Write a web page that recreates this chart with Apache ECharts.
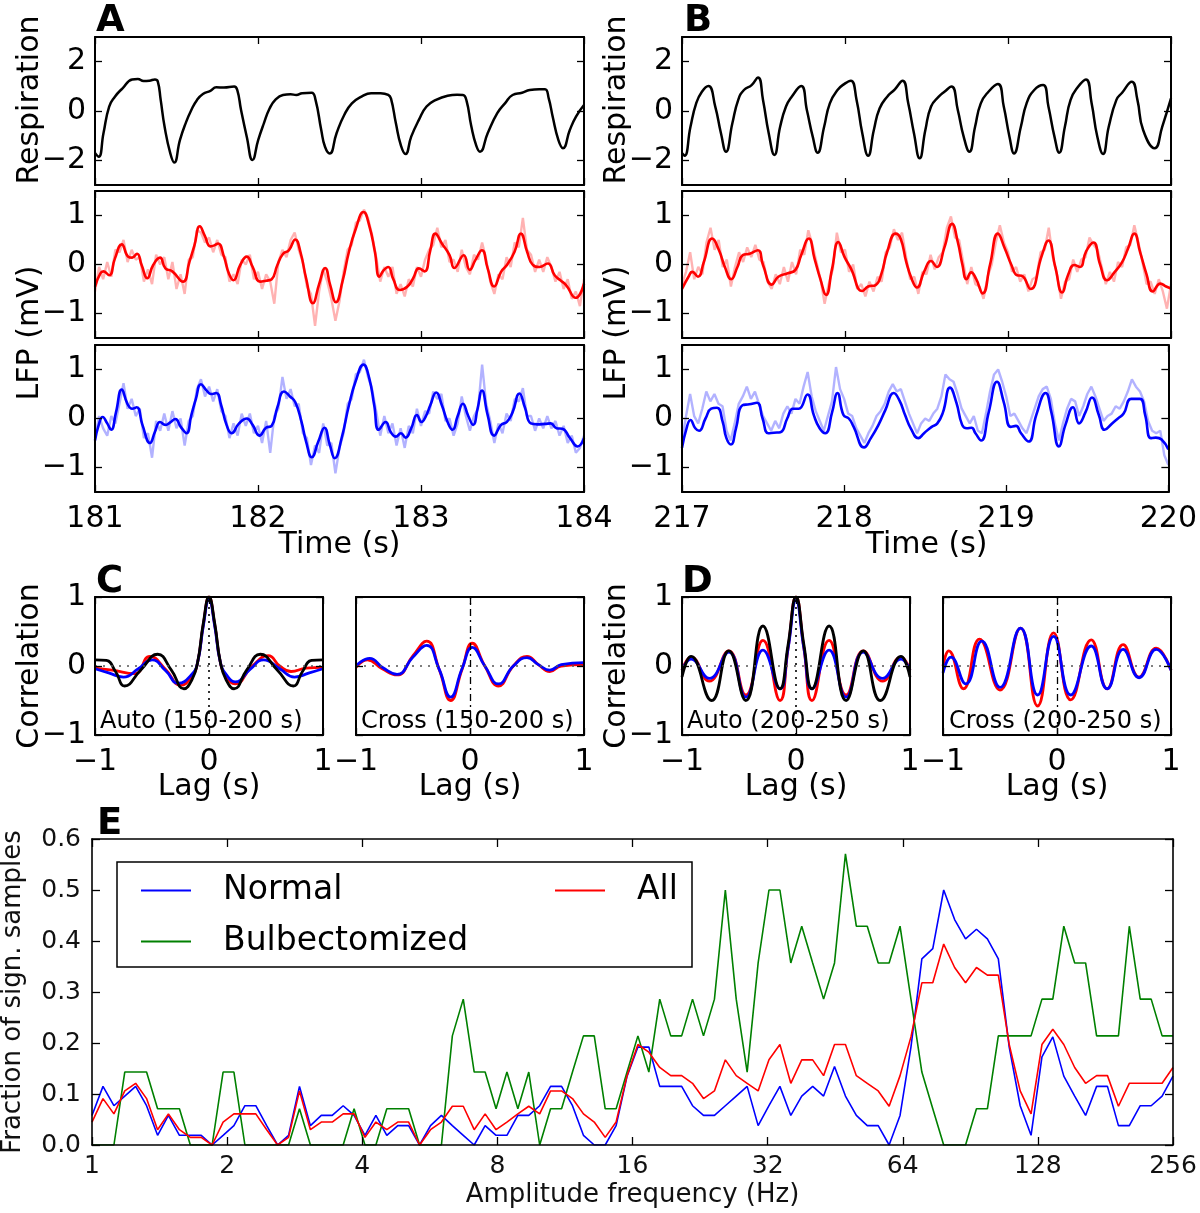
<!DOCTYPE html>
<html><head><meta charset="utf-8">
<script src="https://cdn.jsdelivr.net/npm/echarts@6/dist/echarts.min.js"></script>
<style>html,body{margin:0;padding:0;background:#fff}#c{width:1200px;height:1213px}</style>
</head><body><div id="c"></div>
<script>
// ---------------- DATA ----------------
const timeTicksA = [181, 182, 183, 184];
const timeTicksB = [217, 218, 219, 220];
const respTicks = [-2, 0, 2];
const lfpTicks = [-1, 0, 1];
const corrTicks = [-1, 0, 1];
const lagTicks = [-1, 0, 1];
const fracTicks = [0, 0.1, 0.2, 0.3, 0.4, 0.5, 0.6];

// Respiration (time s, a.u.)
const respA = [[181.000,-1.70],[181.023,-1.85],[181.052,-0.90],[181.087,0.18],[181.122,0.58],[181.169,0.92],[181.228,1.28],[181.263,1.30],[181.298,1.22],[181.333,1.23],[181.368,1.28],[181.385,1.20],[181.403,0.45],[181.427,-0.64],[181.462,-1.72],[181.486,-2.09],[181.521,-1.18],[181.556,-0.50],[181.591,0.04],[181.626,0.45],[181.662,0.69],[181.708,0.82],[181.744,0.96],[181.791,0.95],[181.854,0.99],[181.873,0.85],[181.896,0.04],[181.931,-1.04],[181.966,-1.99],[182.001,-1.18],[182.036,-0.50],[182.071,0.10],[182.106,0.45],[182.153,0.65],[182.200,0.68],[182.235,0.65],[182.271,0.72],[182.329,0.74],[182.353,0.45],[182.388,-0.77],[182.411,-1.45],[182.440,-1.72],[182.482,-0.90],[182.529,-0.16],[182.576,0.31],[182.635,0.58],[182.694,0.72],[182.752,0.72],[182.799,0.65],[182.816,0.50],[182.846,-0.50],[182.877,-1.40],[182.905,-1.74],[182.940,-1.04],[182.987,-0.36],[183.034,0.18],[183.092,0.45],[183.163,0.62],[183.221,0.66],[183.257,0.65],[183.280,0.40],[183.308,-0.60],[183.339,-1.40],[183.362,-1.65],[183.409,-0.90],[183.468,-0.09],[183.515,0.31],[183.562,0.65],[183.620,0.74],[183.667,0.85],[183.726,0.88],[183.761,0.88],[183.784,0.50],[183.808,-0.23],[183.843,-1.18],[183.871,-1.51],[183.913,-0.77],[183.951,-0.23],[184.000,0.24]];
const respB = [[217.000,-1.70],[217.016,-1.81],[217.052,-0.64],[217.087,0.31],[217.122,0.78],[217.162,1.01],[217.204,0.18],[217.239,-0.90],[217.270,-1.65],[217.309,-0.50],[217.345,0.45],[217.380,0.85],[217.427,1.05],[217.466,1.36],[217.497,0.45],[217.532,-0.90],[217.567,-1.78],[217.602,-0.64],[217.638,0.18],[217.673,0.58],[217.731,1.01],[217.766,0.04],[217.802,-1.04],[217.832,-1.69],[217.872,-0.64],[217.907,0.31],[217.954,0.85],[218.001,1.12],[218.036,1.23],[218.071,0.45],[218.106,-0.90],[218.142,-1.81],[218.177,-0.77],[218.212,0.10],[218.259,0.58],[218.306,0.88],[218.353,1.23],[218.388,0.31],[218.423,-0.90],[218.458,-1.92],[218.493,-0.77],[218.528,0.18],[218.575,0.58],[218.610,0.78],[218.653,0.99],[218.692,0.04],[218.728,-1.04],[218.763,-1.65],[218.798,-0.64],[218.833,0.31],[218.880,0.78],[218.938,1.09],[218.974,0.18],[219.009,-1.04],[219.037,-1.72],[219.079,-0.64],[219.114,0.31],[219.161,0.85],[219.215,1.05],[219.248,0.18],[219.285,-1.04],[219.314,-1.69],[219.349,-0.64],[219.384,0.45],[219.431,0.99],[219.478,1.28],[219.513,0.31],[219.548,-1.04],[219.583,-1.74],[219.618,-0.64],[219.665,0.45],[219.700,0.74],[219.759,1.19],[219.794,0.45],[219.829,-0.77],[219.900,-1.51],[219.946,-0.64],[220.000,0.51]];

// Filtered LFP (mV)
const lfpRedA = [[181.000,-0.45],[181.033,-0.18],[181.052,-0.14],[181.087,-0.22],[181.122,0.12],[181.164,0.41],[181.204,0.16],[181.228,0.14],[181.258,0.22],[181.286,-0.01],[181.321,-0.28],[181.357,-0.01],[181.399,0.14],[181.432,-0.08],[181.474,-0.14],[181.540,-0.35],[181.579,0.05],[181.610,0.39],[181.643,0.78],[181.673,0.59],[181.708,0.37],[181.732,0.39],[181.755,0.43],[181.791,0.16],[181.821,-0.18],[181.849,-0.32],[181.891,-0.01],[181.931,0.16],[181.967,-0.05],[182.013,-0.35],[182.049,-0.33],[182.084,-0.30],[182.119,-0.01],[182.154,0.22],[182.189,0.29],[182.229,0.51],[182.260,0.26],[182.295,-0.28],[182.337,-0.79],[182.375,-0.40],[182.412,-0.07],[182.443,-0.42],[182.478,-0.77],[182.518,-0.35],[182.558,0.26],[182.600,0.73],[182.647,1.07],[182.682,0.80],[182.717,0.26],[182.745,-0.25],[182.770,-0.12],[182.799,-0.05],[182.830,-0.30],[182.870,-0.52],[182.917,-0.45],[182.952,-0.28],[182.987,-0.08],[183.022,-0.14],[183.057,0.29],[183.088,0.63],[183.128,0.43],[183.175,0.19],[183.205,-0.07],[183.262,0.19],[183.299,-0.11],[183.335,0.10],[183.374,0.29],[183.409,-0.08],[183.449,-0.45],[183.491,-0.15],[183.527,-0.01],[183.574,0.26],[183.613,0.63],[183.651,0.26],[183.684,0.00],[183.726,-0.05],[183.778,0.02],[183.820,-0.22],[183.855,-0.32],[183.890,-0.42],[183.949,-0.68],[184.000,-0.39]];
const lfpBlueA = [[181.000,-0.45],[181.023,-0.13],[181.047,0.03],[181.075,-0.10],[181.099,-0.23],[181.129,0.13],[181.164,0.59],[181.199,0.30],[181.228,0.20],[181.256,0.23],[181.291,-0.13],[181.338,-0.50],[181.368,-0.27],[181.399,-0.07],[181.432,-0.13],[181.462,-0.08],[181.493,-0.01],[181.526,-0.17],[181.561,-0.30],[181.591,0.07],[181.619,0.40],[181.650,0.70],[181.685,0.57],[181.713,0.50],[181.744,0.52],[181.774,0.27],[181.807,-0.13],[181.838,-0.30],[181.884,-0.10],[181.931,0.00],[181.967,-0.13],[182.009,-0.35],[182.049,-0.19],[182.084,-0.15],[182.119,0.23],[182.159,0.55],[182.196,0.45],[182.229,0.33],[182.267,-0.07],[182.295,-0.47],[182.330,-0.79],[182.370,-0.47],[182.408,-0.19],[182.440,-0.53],[182.471,-0.81],[182.513,-0.40],[182.558,0.27],[182.600,0.77],[182.647,1.10],[182.682,0.83],[182.713,0.27],[182.741,-0.23],[182.783,-0.07],[182.815,-0.28],[182.846,-0.37],[182.877,-0.30],[182.905,-0.39],[182.940,-0.20],[182.975,0.07],[183.003,-0.07],[183.030,0.05],[183.057,0.27],[183.093,0.53],[183.128,0.27],[183.163,-0.07],[183.193,-0.23],[183.225,0.05],[183.257,0.30],[183.290,0.05],[183.320,-0.13],[183.347,0.20],[183.374,0.57],[183.409,0.07],[183.449,-0.35],[183.491,-0.13],[183.527,-0.07],[183.562,0.13],[183.604,0.51],[183.637,0.23],[183.674,-0.10],[183.714,-0.12],[183.761,-0.11],[183.796,-0.10],[183.831,-0.20],[183.867,-0.21],[183.914,-0.40],[183.961,-0.57],[184.000,-0.40]];
const lfpRedB = [[217.000,-0.50],[217.040,-0.25],[217.063,-0.15],[217.098,-0.25],[217.134,0.05],[217.185,0.53],[217.227,0.29],[217.263,-0.05],[217.302,-0.30],[217.340,-0.05],[217.373,0.19],[217.415,0.22],[217.466,0.29],[217.497,-0.01],[217.551,-0.41],[217.591,-0.25],[217.649,-0.18],[217.696,-0.11],[217.731,0.19],[217.778,0.53],[217.813,0.12],[217.849,-0.30],[217.884,-0.62],[217.920,-0.10],[217.959,0.46],[217.996,0.16],[218.036,-0.08],[218.106,-0.54],[218.142,-0.45],[218.188,-0.42],[218.224,-0.18],[218.259,0.26],[218.310,0.63],[218.341,0.53],[218.376,0.05],[218.410,-0.30],[218.442,-0.47],[218.485,-0.15],[218.528,0.07],[218.563,-0.05],[218.610,0.35],[218.657,0.83],[218.692,0.46],[218.720,0.00],[218.746,-0.30],[218.774,-0.16],[218.805,-0.30],[218.845,-0.59],[218.890,0.00],[218.938,0.63],[218.981,0.32],[219.021,-0.01],[219.056,-0.22],[219.084,-0.23],[219.138,-0.50],[219.208,0.19],[219.248,0.49],[219.290,-0.05],[219.332,-0.57],[219.370,-0.20],[219.407,-0.01],[219.442,-0.05],[219.478,0.26],[219.524,0.45],[219.565,0.00],[219.607,-0.32],[219.655,-0.15],[219.700,0.05],[219.736,0.32],[219.775,0.63],[219.810,0.26],[219.850,-0.20],[219.888,-0.55],[219.935,-0.39],[219.970,-0.45],[220.000,-0.49]];
const lfpBlueB = [[217.000,-0.60],[217.028,-0.20],[217.052,-0.03],[217.082,-0.20],[217.105,-0.25],[217.145,0.00],[217.180,0.20],[217.216,0.22],[217.251,-0.07],[217.274,-0.40],[217.302,-0.53],[217.333,-0.20],[217.373,0.27],[217.415,0.29],[217.462,0.32],[217.497,0.00],[217.532,-0.30],[217.567,-0.29],[217.607,-0.28],[217.649,0.00],[217.684,0.20],[217.720,0.20],[217.774,0.49],[217.813,0.07],[217.849,-0.20],[217.884,-0.30],[217.926,0.13],[217.959,0.52],[217.996,0.07],[218.029,0.00],[218.059,-0.17],[218.123,-0.59],[218.165,-0.40],[218.212,-0.13],[218.254,0.17],[218.306,0.52],[218.341,0.37],[218.376,0.07],[218.411,-0.20],[218.458,-0.40],[218.493,-0.30],[218.540,-0.17],[218.575,-0.10],[218.610,0.13],[218.653,0.63],[218.692,0.33],[218.728,-0.13],[218.756,-0.20],[218.786,-0.19],[218.810,-0.30],[218.845,-0.45],[218.892,0.13],[218.943,0.75],[218.985,0.33],[219.028,-0.17],[219.060,-0.15],[219.091,-0.30],[219.138,-0.47],[219.185,0.07],[219.243,0.52],[219.278,0.13],[219.325,-0.57],[219.365,-0.13],[219.412,0.23],[219.449,-0.10],[219.489,0.13],[219.529,0.43],[219.571,0.07],[219.607,-0.23],[219.653,-0.10],[219.689,0.00],[219.724,0.10],[219.771,0.40],[219.825,0.40],[219.857,0.07],[219.892,-0.40],[219.923,-0.39],[219.958,-0.43],[220.000,-0.63]];

// Raw LFP (mV), sampled every rawStep seconds from the window start
const rawStep = 0.025;
const rawStartA = 181, rawStartB = 217;
const rawRedA = [-0.55,-0.05,-0.30,0.05,-0.25,0.30,0.25,0.50,0.05,0.30,
 0.10,0.15,-0.35,-0.10,-0.40,0.20,0.00,0.15,-0.30,0.05,
 -0.50,-0.20,-0.60,0.10,0.15,0.70,0.65,0.45,0.55,0.25,
 0.50,0.20,0.15,-0.35,-0.20,-0.40,0.10,0.00,0.20,-0.30,
 -0.15,-0.50,-0.20,-0.35,-0.80,0.05,0.30,0.15,0.50,0.65,
 0.30,0.05,-0.45,-0.60,-1.25,-0.55,-0.10,-0.35,-0.70,-1.15,
 -0.75,-0.15,0.30,0.40,0.85,0.90,1.12,0.95,0.60,0.15,
 -0.35,-0.05,-0.25,-0.05,-0.60,-0.40,-0.65,-0.30,-0.45,-0.05,
 -0.25,0.10,0.30,0.40,0.75,0.35,0.50,0.05,0.10,-0.15,
 0.30,-0.05,-0.20,0.20,0.10,0.45,0.10,-0.35,-0.60,-0.20,
 -0.30,0.15,-0.05,0.45,0.35,0.95,0.30,0.20,-0.15,0.10,
 -0.15,0.15,-0.05,-0.35,-0.15,-0.50,-0.30,-0.70,-0.55,-0.85,
 -0.30];
const rawBlueA = [-0.40,0.05,-0.20,-0.35,0.05,-0.10,0.30,0.72,0.20,0.40,
 0.05,0.20,-0.40,-0.30,-0.80,-0.05,-0.25,0.10,-0.25,0.15,
 -0.20,0.00,-0.55,-0.05,0.05,0.60,0.80,0.45,0.65,0.35,
 0.60,0.15,0.05,-0.40,-0.10,-0.35,0.10,-0.15,0.10,-0.30,
 -0.15,-0.50,-0.05,-0.70,0.05,0.20,0.85,0.40,0.60,0.25,
 0.30,-0.30,-0.40,-0.95,-0.55,-0.70,-0.10,-0.55,-0.50,-1.12,
 -0.60,-0.30,0.30,0.40,0.90,0.95,1.20,0.85,0.60,0.15,
 -0.35,0.05,-0.30,-0.10,-0.55,-0.20,-0.60,-0.15,-0.30,0.20,
 -0.15,0.15,0.10,0.55,0.40,0.50,-0.05,0.00,-0.35,-0.10,
 0.45,0.05,-0.25,0.05,0.20,1.10,0.30,-0.05,-0.50,-0.10,
 -0.30,0.10,-0.05,0.40,0.35,0.62,0.05,0.05,-0.25,0.00,
 -0.20,0.05,-0.20,-0.05,-0.35,-0.15,-0.50,-0.35,-0.70,-0.60,
 -0.35];
const rawRedB = [-0.40,-0.15,0.25,-0.30,-0.05,-0.20,0.45,0.75,0.30,0.50,
 -0.05,0.10,-0.45,-0.05,0.25,0.05,0.35,0.15,0.40,0.10,
 0.05,-0.35,-0.50,-0.20,-0.40,-0.05,-0.35,0.05,-0.20,0.30,
 0.20,0.70,0.40,0.05,-0.30,-0.80,-0.40,-0.10,0.65,0.25,
 0.30,-0.15,0.00,-0.50,-0.40,-0.65,-0.35,-0.55,-0.25,-0.35,
 0.25,0.35,0.72,0.50,0.65,0.15,-0.30,-0.25,-0.60,-0.15,
 -0.20,0.20,-0.10,0.15,0.25,0.75,0.98,0.55,0.50,0.05,
 -0.40,-0.05,-0.40,-0.45,-0.70,-0.25,0.00,0.45,0.80,0.45,
 0.25,-0.15,-0.05,-0.35,-0.20,-0.55,-0.30,-0.25,0.25,0.30,
 0.75,0.15,-0.20,-0.70,-0.35,-0.30,0.10,-0.15,0.10,0.15,
 0.55,0.40,0.30,-0.05,-0.40,-0.15,-0.35,0.05,-0.05,0.35,
 0.40,0.80,0.45,0.05,-0.40,-0.35,-0.60,-0.30,-0.55,-0.90,
 -0.40];
const rawBlueB = [-0.45,0.05,0.50,0.05,-0.10,0.20,0.55,0.35,0.50,0.30,
 0.25,-0.25,-0.45,-0.10,0.30,0.45,0.65,0.40,0.55,0.30,
 0.05,-0.10,-0.25,-0.05,-0.20,0.10,0.25,0.10,0.40,0.30,
 0.65,0.95,0.45,0.15,-0.05,-0.25,0.05,0.35,1.05,0.60,
 0.40,0.10,0.05,-0.20,-0.35,-0.50,-0.30,-0.15,0.05,0.15,
 0.30,0.55,0.70,0.55,0.60,0.35,0.10,-0.10,-0.30,-0.10,
 0.00,-0.05,0.10,0.20,0.45,0.90,0.80,0.75,0.50,0.20,
 0.05,-0.10,0.05,-0.25,-0.30,0.10,0.55,0.90,1.00,0.75,
 0.45,0.05,0.10,-0.05,-0.20,-0.30,-0.05,0.20,0.45,0.60,
 0.65,0.40,-0.10,-0.45,-0.10,0.20,0.40,0.35,0.05,0.25,
 0.50,0.65,0.45,0.20,-0.05,0.05,0.10,0.25,0.20,0.35,
 0.55,0.80,0.65,0.55,0.35,-0.05,-0.25,-0.30,-0.25,-0.75,
 -0.95];

// Correlations (lag s, r)
const cAutoResp = [[-1,0.09],[-0.9,0.08],[-0.82,-0.08],[-0.74,-0.29],[-0.6,-0.06],[-0.45,0.17],[-0.33,-0.06],[-0.22,-0.33],[-0.15,-0.2],[-0.1,0.05],[-0.05,0.62],[0,1],[0.05,0.62],[0.1,0.05],[0.15,-0.2],[0.22,-0.33],[0.33,-0.06],[0.45,0.17],[0.6,-0.06],[0.74,-0.29],[0.82,-0.08],[0.9,0.08],[1,0.09]];
const cAutoRed = [[-1,-0.03],[-0.85,-0.06],[-0.65,-0.11],[-0.52,0.14],[-0.38,-0.05],[-0.25,-0.28],[-0.15,-0.15],[-0.1,0.05],[-0.05,0.6],[0,1],[0.05,0.6],[0.1,0.05],[0.15,-0.15],[0.23,-0.26],[0.38,0.0],[0.52,0.15],[0.62,0.0],[0.72,-0.08],[0.85,-0.03],[1,-0.02]];
const cAutoBlue = [[-1,-0.04],[-0.88,-0.1],[-0.75,-0.16],[-0.62,-0.04],[-0.5,0.09],[-0.38,-0.07],[-0.27,-0.25],[-0.15,-0.12],[-0.1,0.05],[-0.05,0.58],[0,0.97],[0.05,0.58],[0.1,0.05],[0.15,-0.12],[0.23,-0.23],[0.36,-0.05],[0.48,0.09],[0.62,-0.04],[0.75,-0.16],[0.88,-0.1],[1,-0.04]];
const cCrossRed = [[-1,-0.02],[-0.9,0.09],[-0.77,-0.04],[-0.64,-0.13],[-0.5,0.15],[-0.38,0.36],[-0.27,-0.05],[-0.17,-0.5],[-0.07,-0.05],[0.02,0.33],[0.13,0.0],[0.25,-0.29],[0.38,0.0],[0.5,0.14],[0.6,0.02],[0.7,-0.08],[0.8,0.0],[1,0.02]];
const cCrossBlue = [[-1,0.0],[-0.88,0.11],[-0.76,-0.03],[-0.64,-0.12],[-0.5,0.13],[-0.38,0.3],[-0.27,-0.05],[-0.17,-0.45],[-0.07,-0.04],[0.02,0.27],[0.13,0.0],[0.25,-0.26],[0.38,0.0],[0.5,0.12],[0.6,0.02],[0.7,-0.06],[0.8,0.02],[1,0.05]];
const dAutoResp = [[-1,-0.16],[-0.92,0.14],[-0.74,-0.5],[-0.59,0.22],[-0.44,-0.5],[-0.29,0.58],[-0.14,-0.33],[-0.07,0.3],[0,1],[0.07,0.3],[0.14,-0.33],[0.29,0.58],[0.44,-0.5],[0.59,0.22],[0.74,-0.5],[0.92,0.14],[1,-0.16]];
const dAutoRed = [[-1,-0.06],[-0.92,0.13],[-0.76,-0.22],[-0.59,0.22],[-0.44,-0.42],[-0.29,0.37],[-0.14,-0.5],[-0.07,0.25],[0,1],[0.07,0.25],[0.14,-0.5],[0.29,0.37],[0.44,-0.42],[0.59,0.22],[0.76,-0.22],[0.92,0.13],[1,-0.06]];
const dAutoBlue = [[-1,-0.06],[-0.92,0.1],[-0.76,-0.18],[-0.59,0.2],[-0.44,-0.45],[-0.29,0.23],[-0.14,-0.33],[-0.07,0.25],[0,0.95],[0.07,0.25],[0.14,-0.33],[0.29,0.23],[0.44,-0.45],[0.59,0.2],[0.76,-0.18],[0.92,0.1],[1,-0.06]];
const dCrossRed = [[-1,0.0],[-0.95,0.22],[-0.82,-0.33],[-0.68,0.39],[-0.5,-0.35],[-0.32,0.55],[-0.17,-0.58],[-0.03,0.48],[0.12,-0.49],[0.3,0.38],[0.44,-0.33],[0.58,0.31],[0.72,-0.16],[0.87,0.26],[1,-0.06]];
const dCrossBlue = [[-1,-0.1],[-0.93,0.13],[-0.8,-0.26],[-0.66,0.36],[-0.5,-0.31],[-0.32,0.55],[-0.17,-0.42],[-0.03,0.43],[0.12,-0.42],[0.3,0.29],[0.44,-0.33],[0.58,0.24],[0.72,-0.17],[0.87,0.24],[1,-0.06]];

// Panel E: amplitude frequency (Hz) and fraction of significant samples
const freqs = [1,1.058,1.119,1.183,1.251,1.323,1.4,1.48,1.566,1.656,
 1.751,1.852,1.959,2.071,2.191,2.317,2.45,2.591,2.741,2.899,
 3.066,3.242,3.429,3.627,3.836,4.056,4.29,4.537,4.799,5.075,
 5.368,5.677,6.004,6.35,6.716,7.103,7.513,7.946,8.402,8.886,
 9.398,9.939,10.51,11.12,11.76,12.44,13.15,13.91,14.71,15.56,
 16.45,17.4,18.4,19.47,20.59,21.77,23.03,24.36,25.76,27.24,
 28.81,30.48,32.22,34.08,36.04,38.12,40.32,42.64,45.1,47.7,
 50.44,53.35,56.43,59.68,63.12,66.75,70.59,74.66,78.96,83.51,
 88.33,93.41,98.79,104.5,110.5,116.9,123.6,130.7,138.2,146.2,
 154.6,163.5,173,182.9,193.5,204.6,216.4,228.9,242.1,256];
const fracNormal = [0.058,0.115,0.077,0.096,0.115,0.077,0.019,0.058,0.019,0.019,
 0.019,0,0.019,0.038,0.077,0.077,0.038,0,0.019,0.115,
 0.038,0.058,0.058,0.077,0.058,0.019,0.058,0.019,0.038,0.038,
 0,0.038,0.058,0.038,0.019,0,0.038,0.019,0.019,0.058,
 0.058,0.077,0.115,0.115,0.077,0.019,0,0,0.038,0.135,
 0.192,0.192,0.115,0.115,0.115,0.077,0.058,0.058,0.077,0.096,
 0.115,0.038,0.077,0.115,0.058,0.096,0.115,0.096,0.154,0.096,
 0.058,0.038,0.038,0,0.058,0.192,0.365,0.385,0.5,0.442,
 0.404,0.423,0.404,0.365,0.192,0.077,0.019,0.173,0.212,0.135,
 0.096,0.058,0.115,0.115,0.038,0.038,0.077,0.077,0.096,0.135];
const fracBulb = [0,0,0,0.143,0.143,0.143,0.071,0.071,0.071,0,
 0,0,0.143,0.143,0,0,0,0,0,0.071,
 0,0,0,0,0.071,0,0,0.071,0.071,0.071,
 0,0,0,0.214,0.286,0.143,0.143,0.071,0.143,0.071,
 0.143,0,0.071,0.071,0.143,0.214,0.214,0.071,0.071,0.143,
 0.214,0.143,0.286,0.214,0.214,0.286,0.214,0.286,0.5,0.286,
 0.143,0.357,0.5,0.5,0.357,0.429,0.357,0.286,0.357,0.571,
 0.429,0.429,0.357,0.357,0.429,0.286,0.143,0.071,0,0,
 0,0.071,0.071,0.214,0.214,0.214,0.214,0.286,0.286,0.429,
 0.357,0.357,0.214,0.214,0.214,0.429,0.286,0.286,0.214,0.214];
const fracAll = [0.045,0.091,0.061,0.106,0.121,0.091,0.03,0.061,0.03,0.015,
 0.015,0,0.045,0.061,0.061,0.061,0.03,0,0.015,0.106,
 0.03,0.045,0.045,0.061,0.061,0.015,0.045,0.03,0.045,0.045,
 0,0.03,0.045,0.076,0.076,0.03,0.061,0.03,0.045,0.061,
 0.076,0.061,0.106,0.106,0.091,0.061,0.045,0.015,0.045,0.136,
 0.197,0.182,0.152,0.136,0.136,0.121,0.091,0.106,0.167,0.136,
 0.121,0.106,0.167,0.197,0.121,0.167,0.167,0.136,0.197,0.197,
 0.136,0.121,0.106,0.076,0.136,0.212,0.318,0.318,0.394,0.348,
 0.318,0.348,0.333,0.333,0.197,0.106,0.061,0.197,0.227,0.197,
 0.152,0.121,0.136,0.136,0.076,0.121,0.121,0.121,0.121,0.152];

// ---------------- BUILD ----------------
const FONT = "DejaVu Sans";
const grids = [], xAxes = [], yAxes = [], series = [], graphics = [];
const minusFmt = v => (v < 0 ? '\u2212' : '') + Math.abs(v);

function mkAxis(kind, gi, pos, c) {
  const a = {
    type: c.type || 'value', gridIndex: gi, position: pos, min: c.min, max: c.max,
    axisLine: {show: true, onZero: false, lineStyle: {color: '#000', width: c.lw}},
    axisTick: {show: true, inside: true, length: c.tickLen, lineStyle: {color: '#000', width: 1.3}},
    axisLabel: {show: !!c.labels, fontFamily: FONT, fontSize: c.fontSize, color: c.color || '#000',
      margin: c.margin, showMinLabel: true, showMaxLabel: true, hideOverlap: false},
    splitLine: {show: false}, splitArea: {show: false}, axisPointer: {show: false}, silent: true, z: 5
  };
  if (c.interval != null) a.interval = c.interval;
  if (c.ticks) { a.axisTick.customValues = c.ticks; a.axisLabel.customValues = c.ticks; }
  if (c.fmt) a.axisLabel.formatter = c.fmt;
  if (c.logBase) a.logBase = c.logBase;
  if (c.splitNumber) a.splitNumber = c.splitNumber;
  const arr = kind === 'x' ? xAxes : yAxes;
  arr.push(a);
  return arr.length - 1;
}
function panel(rect, xc, yc) {
  grids.push({left: rect[0], top: rect[1], width: rect[2], height: rect[3]});
  const gi = grids.length - 1;
  const xi = mkAxis('x', gi, 'bottom', xc);
  mkAxis('x', gi, 'top', Object.assign({}, xc, {labels: false}));
  const yi = mkAxis('y', gi, 'left', yc);
  mkAxis('y', gi, 'right', Object.assign({}, yc, {labels: false}));
  return {xi, yi};
}
function line(p, data, color, width, extra) {
  series.push(Object.assign({
    type: 'line', xAxisIndex: p.xi, yAxisIndex: p.yi, data: data,
    showSymbol: false, symbol: 'none', lineStyle: {color: color, width: width},
    itemStyle: {color: color}, silent: true, animation: false, z: 2
  }, extra || {}));
}
function refLines(p, vStyle) {
  series.push({type: 'line', xAxisIndex: p.xi, yAxisIndex: p.yi, data: [], silent: true, z: 1,
    markLine: {silent: true, symbol: ['none', 'none'], label: {show: false}, animation: false,
      data: [
        {yAxis: 0, lineStyle: {type: [2, 6], color: '#555', width: 1.6}},
        {xAxis: 0, lineStyle: vStyle}
      ]}});
}
function txt(text, x, y, size, o) {
  o = o || {};
  graphics.push({type: 'text', x: x, y: y, rotation: o.rot || 0, z: 20,
    style: {text: text, font: (o.bold ? 'bold ' : '') + size + 'px "DejaVu Sans"', fill: o.color || '#000',
      align: o.align || 'center', verticalAlign: 'middle'}});
}
const rawPairs = (arr, t0) => arr.map((v, i) => [t0 + i * rawStep, v]);

const tsX = (ticks, labels) => ({min: ticks[0], max: ticks[ticks.length - 1], interval: 1, labels: labels,
  fontSize: 30, margin: 12, lw: 2, tickLen: 7});
const yRes = {min: -3, max: 3, ticks: respTicks, labels: true, fontSize: 30, margin: 9, lw: 2, tickLen: 7, fmt: minusFmt};
const yLfp = {min: -1.5, max: 1.5, ticks: lfpTicks, labels: true, fontSize: 30, margin: 9, lw: 2, tickLen: 7, fmt: minusFmt};
const smT = {smooth: 0.5, z: 3};

[[95, timeTicksA, respA, lfpRedA, lfpBlueA, rawRedA, rawBlueA, rawStartA],
 [682, timeTicksB, respB, lfpRedB, lfpBlueB, rawRedB, rawBlueB, rawStartB]].forEach(cfg => {
  const [L, tt, resp, red, blue, rRed, rBlue, t0] = cfg;
  const pR = panel([L, 37, 489, 148], tsX(tt, false), yRes);
  line(pR, resp, '#000', 2.5, smT);
  const pRed = panel([L, 191, 489, 147], tsX(tt, false), yLfp);
  line(pRed, rawPairs(rRed, t0), 'rgba(255,0,0,0.3)', 2.4);
  line(pRed, red, '#ff0000', 2.6, smT);
  const pBlue = panel([L, 345, 489, 147], tsX(tt, true), yLfp);
  line(pBlue, rawPairs(rBlue, t0), 'rgba(0,0,255,0.3)', 2.4);
  line(pBlue, blue, '#0000ff', 2.6, smT);
});

const xLag = {min: -1, max: 1, interval: 1, labels: true, fontSize: 30, margin: 12, lw: 2, tickLen: 7, fmt: minusFmt};
const yCor = {min: -1, max: 1, interval: 1, labels: true, fontSize: 30, margin: 9, lw: 2, tickLen: 7, fmt: minusFmt};
const yCorNo = Object.assign({}, yCor, {labels: false});
const autoV = {type: [2, 5], color: '#000', width: 1.6};
const crossV = {type: [7, 4, 2, 4], color: '#000', width: 1.3};
const sm = {smooth: 0.5};

const pCA = panel([95, 597, 228, 138], xLag, yCor);
refLines(pCA, autoV);
line(pCA, cAutoRed, '#ff0000', 2.8, sm);
line(pCA, cAutoBlue, '#0000ff', 2.8, sm);
line(pCA, cAutoResp, '#000', 2.8, Object.assign({z: 3}, sm));
const pCC = panel([356, 597, 228, 138], xLag, yCorNo);
refLines(pCC, crossV);
line(pCC, cCrossRed, '#ff0000', 2.8, sm);
line(pCC, cCrossBlue, '#0000ff', 2.8, Object.assign({z: 3}, sm));
const pDA = panel([682, 597, 228, 138], xLag, yCor);
refLines(pDA, autoV);
line(pDA, dAutoRed, '#ff0000', 2.8, sm);
line(pDA, dAutoBlue, '#0000ff', 2.8, sm);
line(pDA, dAutoResp, '#000', 2.8, Object.assign({z: 3}, sm));
const pDC = panel([943, 597, 228, 138], xLag, yCorNo);
refLines(pDC, crossV);
line(pDC, dCrossRed, '#ff0000', 2.8, sm);
line(pDC, dCrossBlue, '#0000ff', 2.8, Object.assign({z: 3}, sm));

const pE = panel([92, 839, 1081, 306],
  {type: 'log', logBase: 2, min: freqs[0], max: freqs[freqs.length - 1], splitNumber: 8, labels: true, fontSize: 25, margin: 9, lw: 1.6, tickLen: 8, color: '#111'},
  {min: 0, max: 0.6, interval: 0.1, labels: true, fontSize: 25, margin: 11, lw: 1.6, tickLen: 8, color: '#111', fmt: v => v.toFixed(1)});
line(pE, freqs.map((f, i) => [f, fracNormal[i]]), '#0000ff', 1.6, {name: 'Normal'});
line(pE, freqs.map((f, i) => [f, fracBulb[i]]), '#008000', 1.6, {name: 'Bulbectomized'});
line(pE, freqs.map((f, i) => [f, fracAll[i]]), '#ff0000', 1.6, {name: 'All'});

// ---------------- TEXT ----------------
txt('A', 96, 21, 37, {bold: true, align: 'left'});
txt('B', 684, 21, 37, {bold: true, align: 'left'});
txt('C', 96, 582, 37, {bold: true, align: 'left'});
txt('D', 682, 582, 37, {bold: true, align: 'left'});
txt('E', 97, 824, 37, {bold: true, align: 'left'});
const up = Math.PI / 2;
txt('Respiration', 30, 100, 30, {rot: up});
txt('Respiration', 617, 100, 30, {rot: up});
txt('LFP (mV)', 30, 333, 30, {rot: up});
txt('LFP (mV)', 617, 333, 30, {rot: up});
txt('Time (s)', 339.5, 545, 30);
txt('Time (s)', 926.5, 545, 30);
txt('Correlation', 30, 666, 30, {rot: up});
txt('Correlation', 617, 666, 30, {rot: up});
txt('Lag (s)', 209, 787, 30);
txt('Lag (s)', 470, 787, 30);
txt('Lag (s)', 796, 787, 30);
txt('Lag (s)', 1057, 787, 30);
txt('Auto (150-200 s)', 100, 722, 24, {align: 'left'});
txt('Cross (150-200 s)', 361, 722, 24, {align: 'left'});
txt('Auto (200-250 s)', 687, 722, 24, {align: 'left'});
txt('Cross (200-250 s)', 949, 722, 24, {align: 'left'});
txt('Fraction of sign. samples', 13, 992, 26, {rot: up, color: '#111'});
txt('Amplitude frequency (Hz)', 632.5, 1195, 26, {color: '#111'});
graphics.push({type: 'rect', z: 3, shape: {x: 117, y: 862, width: 575, height: 105},
  style: {fill: '#fff', stroke: '#000', lineWidth: 1.5}});

const legendBase = {orient: 'vertical', top: 874, itemWidth: 50, itemHeight: 2, itemGap: 18, padding: 0,
  selectedMode: false, z: 10, icon: 'rect',
  textStyle: {fontFamily: FONT, fontSize: 33, color: '#000', padding: [0, 0, 0, 27]}};

const chart = echarts.init(document.getElementById('c'), null, {renderer: 'canvas'});
chart.setOption({
  animation: false,
  backgroundColor: '#fff',
  grid: grids, xAxis: xAxes, yAxis: yAxes, series: series,
  legend: [
    Object.assign({}, legendBase, {left: 141, data: ['Normal', 'Bulbectomized']}),
    Object.assign({}, legendBase, {left: 555, data: ['All']})
  ],
  graphic: graphics
});
</script></body></html>
